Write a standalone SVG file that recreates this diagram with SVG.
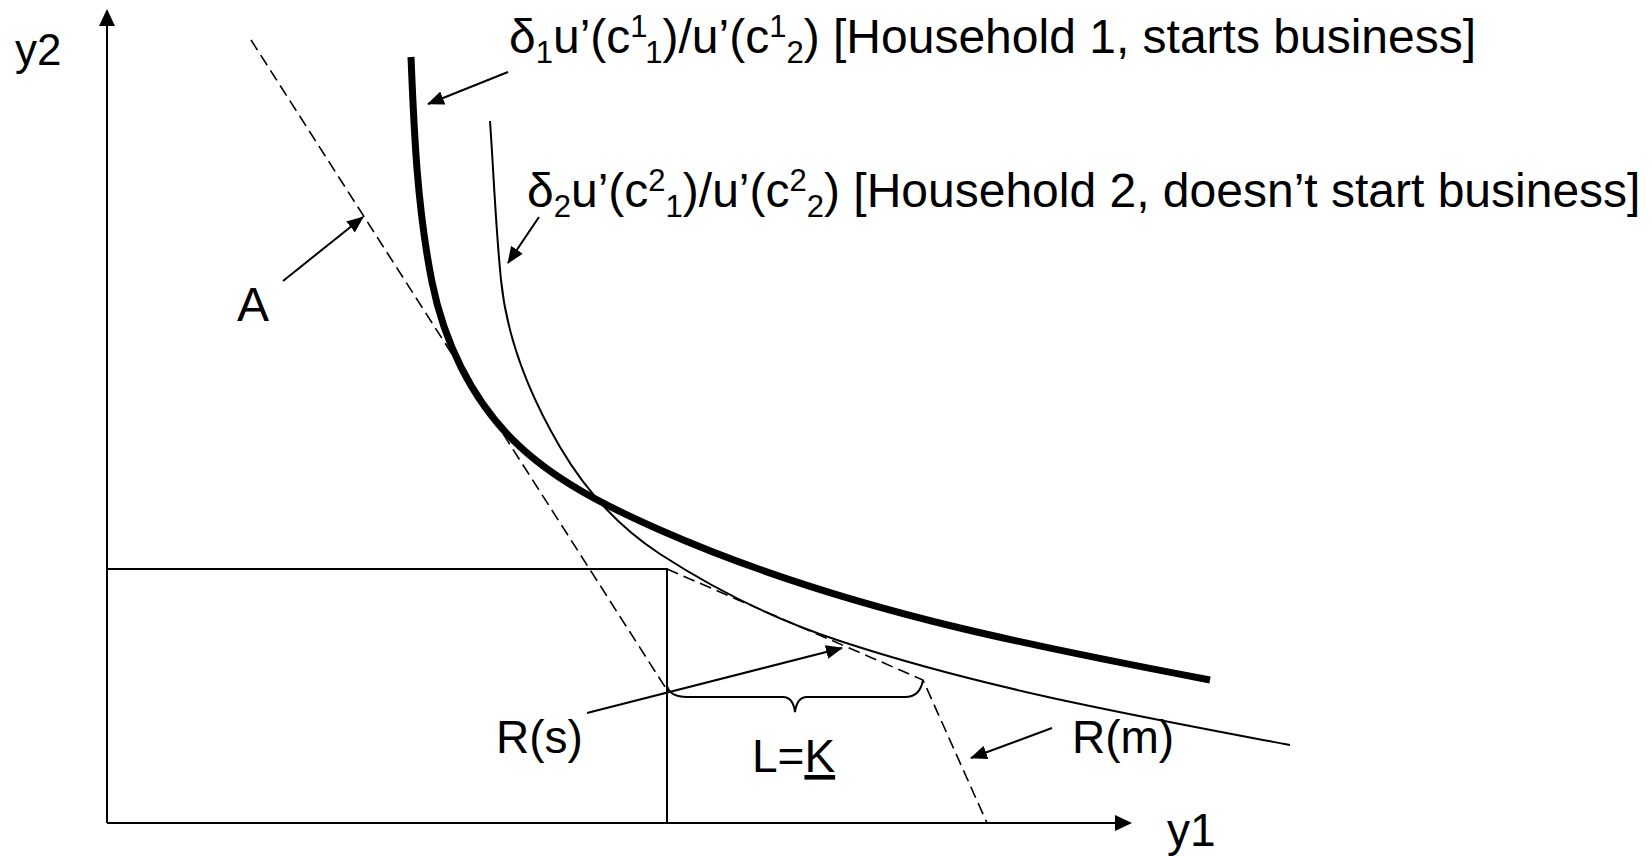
<svg xmlns="http://www.w3.org/2000/svg" width="1652" height="856" viewBox="0 0 1652 856">
<style>
.t{font-family:"Liberation Sans",Arial,sans-serif;fill:#000}
.ln{stroke:#000;stroke-width:2;fill:none}
.dash{stroke:#000;stroke-width:1.6;fill:none;stroke-dasharray:12,6}
.con{stroke:#000;stroke-width:2;fill:none;marker-end:url(#ah)}
</style>
<defs>
<marker id="ah" viewBox="0 0 17 14" refX="16" refY="7" markerWidth="17" markerHeight="14" markerUnits="userSpaceOnUse" orient="auto">
<path d="M0,0 L17,7 L0,14 Z" fill="#000"/>
</marker>
</defs>
<rect width="1652" height="856" fill="#fff"/>
<g id="axes">
<line class="ln" x1="107" y1="823" x2="107" y2="22"/>
<path d="M107,9 L115,26 L99,26 Z" fill="#000"/>
<line class="ln" x1="107" y1="823" x2="1118" y2="823"/>
<path d="M1132,823 L1115,815 L1115,831 Z" fill="#000"/>
<text class="t" x="15" y="65" font-size="44">y2</text>
<text class="t" x="1167" y="846" font-size="46">y1</text>
</g>
<g id="rect">
<polyline class="ln" points="107,569 667,569 667,823"/>
</g>
<g id="budget">
<line class="dash" x1="251" y1="40" x2="667" y2="690"/>
<polyline class="dash" points="667,569 923,680 987,823"/>
</g>
<g id="curve1">
<path fill="none" stroke="#000" stroke-width="7" d="M411,57 C414,132 417.3,208.5 432,282 C443.8,340.8 470.6,397.6 513,440 C553.3,480.3 607.8,507 660,530 C756,572.3 858,603.5 960,628 C1040.7,647.3 1128.5,664.5 1210,680"/>
</g>
<g id="curve2">
<path fill="none" stroke="#000" stroke-width="2" d="M490,121 C493.7,174 495.7,227.3 501,280 C506.9,338.7 530.1,396.1 560,447 C584.8,489.2 619,527.3 660,554 C716.1,590.5 776.4,620 840,641 C986.3,689.2 1138.7,716.2 1290,745"/>
</g>
<g id="brace">
<path class="ln" d="M667,686 Q670,697 687,697 L783,697 Q793,697 795,712 Q797,697 807,697 L905,697 Q920,697 923,680"/>
</g>
<g id="connectors">
<line class="con" x1="508" y1="72" x2="428" y2="104"/>
<line class="con" x1="539" y1="217" x2="508" y2="263"/>
<line class="con" x1="283" y1="281" x2="363" y2="217"/>
<line class="con" x1="587" y1="713" x2="842" y2="648"/>
<line class="con" x1="1052" y1="728" x2="971" y2="758"/>
</g>
<g id="label-h1">
<text class="t" x="509" y="53" font-size="48">δ<tspan font-size="31" dy="10">1</tspan><tspan dy="-10">u’(c</tspan><tspan font-size="31" dy="-16">1</tspan><tspan font-size="31" dy="26">1</tspan><tspan dy="-10">)/u’(c</tspan><tspan font-size="31" dy="-16">1</tspan><tspan font-size="31" dy="26">2</tspan><tspan dy="-10">) [Household 1, starts business]</tspan></text>
</g>
<g id="label-h2">
<text class="t" x="527" y="207" font-size="48">δ<tspan font-size="31" dy="10">2</tspan><tspan dy="-10">u’(c</tspan><tspan font-size="31" dy="-16">2</tspan><tspan font-size="31" dy="26">1</tspan><tspan dy="-10">)/u’(c</tspan><tspan font-size="31" dy="-16">2</tspan><tspan font-size="31" dy="26">2</tspan><tspan dy="-10">) [Household 2, doesn’t start business]</tspan></text>
</g>
<g id="label-A"><text class="t" x="237" y="321" font-size="48">A</text></g>
<g id="label-Rs"><text class="t" x="496" y="753" font-size="46">R(s)</text></g>
<g id="label-LK"><text class="t" x="752" y="772" font-size="46">L=<tspan style="text-decoration:underline">K</tspan></text></g>
<g id="label-Rm"><text class="t" x="1072" y="753" font-size="46">R(m)</text></g>
</svg>
